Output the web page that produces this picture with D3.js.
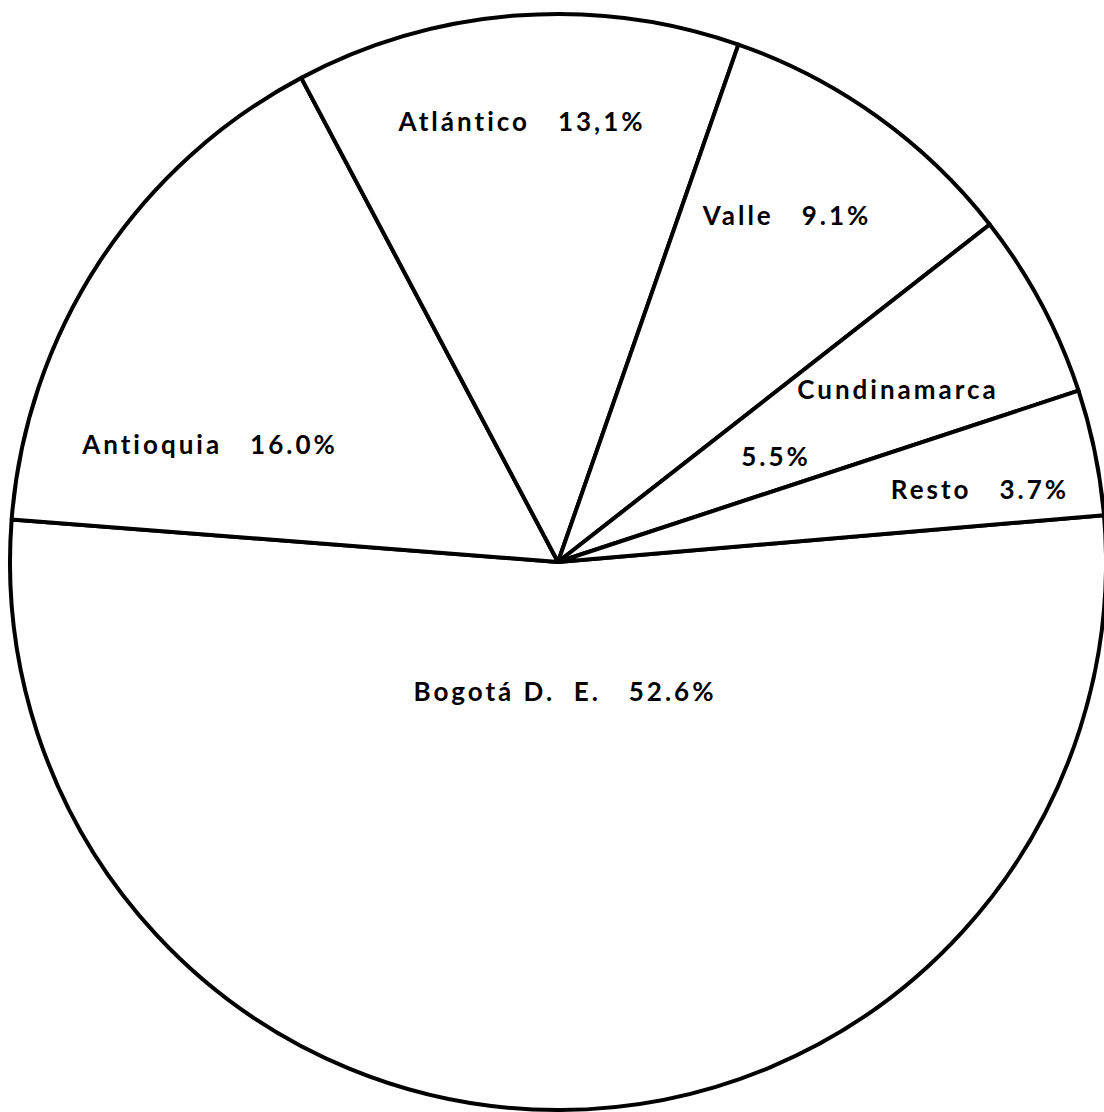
<!DOCTYPE html>
<meta charset="utf-8">
<script src="https://d3js.org/d3.v7.min.js"></script>
<style>
  body { margin: 0; background: #fff; }
  text { font-family: Lato, sans-serif; font-weight: bold; white-space: pre; }
</style>
<svg id="vis"></svg>
<script>
  // data, clockwise starting with Bogota
  var regions = ['Bogotá D.  E.', 'Antioquia', 'Atlántico', 'Valle', 'Cundinamarca', 'Resto'];
  var shares = [52.6, 16.0, 13.1, 9.1, 5.5, 3.7];
  var shareLabels = ['52.6%', '16.0%', '13,1%', '9.1%', '5.5%', '3.7%'];

  var width = 1104;
  var height = 1112;
  var cx = 558, cy = 562, radius = 548;

  // label placement (offset from pie centre), not data
  var labelLayout = [
      {dx: 7,   dy: 139, split: false},
      {dx: -348, dy: -108, split: false},
      {dx: -36, dy: -431, split: false},
      {dx: 229, dy: -337, split: false},
      {dx: 340, dy: -163, split: true, dx2: 218, dy2: -96},
      {dx: 422, dy: -63, split: false}];

  var svg = d3.select('#vis')
      .attr('width', width)
      .attr('height', height);

  var g = svg.append('g')
      .attr('transform', 'translate(' + cx + ',' + cy + ')');

  var start = 85.1 * Math.PI / 180;
  var pie = d3.pie()
      .sort(null)
      .startAngle(start)
      .endAngle(start + 2 * Math.PI);

  var arc = d3.arc()
      .innerRadius(0)
      .outerRadius(radius);

  g.selectAll('path')
      .data(pie(shares))
      .enter().append('path')
      .attr('d', arc)
      .attr('fill', 'white')
      .attr('stroke', 'black')
      .attr('stroke-width', 4)
      .attr('stroke-linejoin', 'round');

  // Labels
  function addText(x, y, s) {
      g.append('text')
          .attr('x', x).attr('y', y)
          .attr('text-anchor', 'middle')
          .attr('font-size', 26)
          .attr('letter-spacing', 3)
          .text(s);
  }
  regions.forEach(function(name, i) {
      var p = labelLayout[i];
      if (p.split) {
          addText(p.dx, p.dy, name);
          addText(p.dx2, p.dy2, shareLabels[i]);
      } else {
          addText(p.dx, p.dy, name + '   ' + shareLabels[i]);
      }
  });
</script>
